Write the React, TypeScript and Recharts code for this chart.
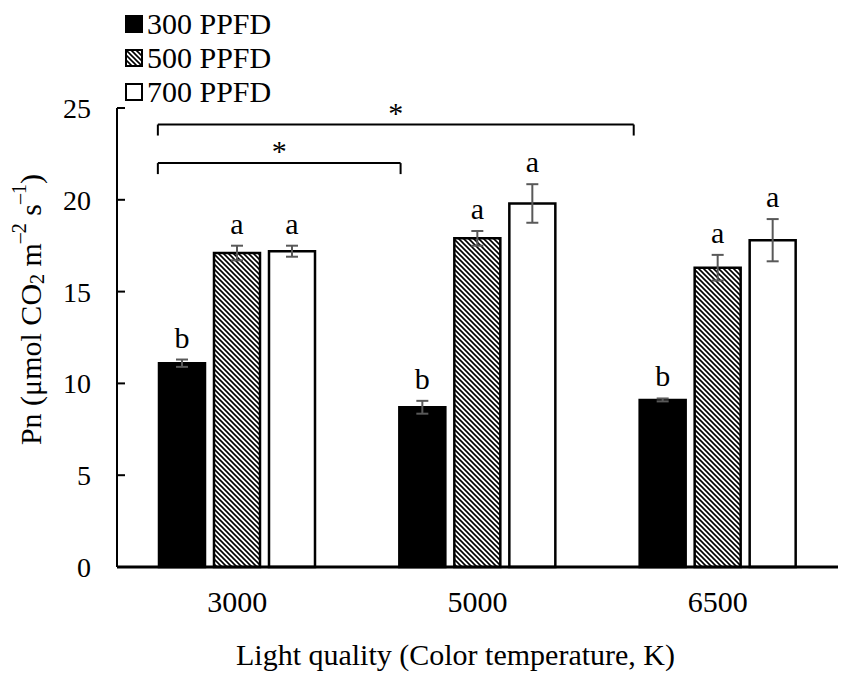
import React from 'react';
import { BarChart, Bar, XAxis, YAxis, ErrorBar, LabelList, Legend, ReferenceLine, Label } from 'recharts';

const FONT = '"Liberation Serif", "Times New Roman", serif';

const categories = ['3000', '5000', '6500'];
const positions = [0.5, 1.5, 2.5];
const pn300 = [11.1, 8.7, 9.1];
const pn500 = [17.1, 17.9, 16.3];
const pn700 = [17.2, 19.8, 17.8];
const se300 = [0.2, 0.35, 0.08];
const se500 = [0.4, 0.4, 0.7];
const se700 = [0.3, 1.05, 1.15];
const letters300 = ['b', 'b', 'b'];
const letters500 = ['a', 'a', 'a'];
const letters700 = ['a', 'a', 'a'];
const yTicks = [0, 5, 10, 15, 20, 25];

// significance brackets, x on a 0..3 scale (one unit per category)
const bracketFrom = [0.17, 0.17];
const bracketTo = [2.15, 1.18];
const bracketY = [24.1, 22.0];
const bracketTip = [23.5, 21.4];
const bracketMark = ['*', '*'];

const rows = categories.map((cat, i) => ({
  cat,
  pos: positions[i],
  v300: pn300[i], e300: se300[i], l300: letters300[i],
  v500: pn500[i], e500: se500[i], l500: letters500[i],
  v700: pn700[i], e700: se700[i], l700: letters700[i],
}));

const series = [
  { key: '300', name: '300 PPFD', fill: '#000', legendFill: '#000' },
  { key: '500', name: '500 PPFD', fill: 'url(#hatch)', legendFill: 'url(#hatchLegend)' },
  { key: '700', name: '700 PPFD', fill: '#fff', legendFill: '#fff' },
];

function letterLabel(key: string) {
  return (props: any) => {
    const { x, y, width, height, index, value } = props;
    const row: any = rows[index];
    const k = Number(height) / row['v' + key];
    const top = Number(y) - row['e' + key] * k;
    return (
      <text x={Number(x) + Number(width) / 2} y={top - 12} textAnchor="middle" fontSize={30} fontFamily={FONT} fill="#000">
        {value}
      </text>
    );
  };
}

const YTitle = (props: any) => {
  const vb = props.viewBox || { x: 0, y: 0, width: 0, height: 0 };
  const cx = vb.x + 22;
  const cy = vb.y + vb.height / 2 - 28;
  return (
    <text x={cx} y={cy} transform={`rotate(-90 ${cx} ${cy})`} textAnchor="middle" dominantBaseline="central" fontFamily={FONT} fontSize={30} fill="#000">
      <tspan>Pn (μmol CO</tspan>
      <tspan fontSize={20} dy={7}>2</tspan>
      <tspan dy={-7}> m</tspan>
      <tspan fontSize={20} dy={-11}>–2</tspan>
      <tspan dy={11}> s</tspan>
      <tspan fontSize={20} dy={-11}>–1</tspan>
      <tspan dy={11}>)</tspan>
    </text>
  );
};

const XTitle = (props: any) => {
  const vb = props.viewBox || { x: 0, y: 0, width: 0, height: 0 };
  return (
    <text x={vb.x + vb.width / 2 - 22} y={vb.y + 98} textAnchor="middle" fontFamily={FONT} fontSize={30} fill="#000">
      Light quality (Color temperature, K)
    </text>
  );
};

const LegendBox = () => (
  <div style={{ fontFamily: FONT, fontSize: 30, color: '#000' }}>
    {series.map((s) => (
      <div key={s.key} style={{ display: 'flex', alignItems: 'center', height: 34, whiteSpace: 'nowrap' }}>
        <svg width={18} height={18} style={{ marginRight: 4 }}>
          <defs>
            <pattern id="hatchLegend" patternUnits="userSpaceOnUse" width={5} height={5}>
              <rect width={5} height={5} fill="#fff" />
              <path d="M0,0 L5,5 M-1,4 L1,6 M4,-1 L6,1" stroke="#000" strokeWidth={1.6} />
            </pattern>
          </defs>
          <rect x={1} y={1} width={16} height={16} fill={s.legendFill} stroke="#000" strokeWidth={2} />
        </svg>
        <span style={{ lineHeight: '34px' }}>{s.name}</span>
      </div>
    ))}
  </div>
);

export default function App() {
  const xTick = { fill: '#000', fontSize: 30, fontFamily: FONT };
  const yTick = { fill: '#000', fontSize: 28, fontFamily: FONT };
  return (
    <div style={{ width: 842, height: 669, fontFamily: FONT }}>
      <BarChart width={842} height={669} data={rows} margin={{ top: 100, right: 12, bottom: 0, left: 0 }} barSize={46} barGap={9}>
        <defs>
          <pattern id="hatch" patternUnits="userSpaceOnUse" width={5} height={5}>
            <rect width={5} height={5} fill="#fff" />
            <path d="M0,0 L5,5 M-1,4 L1,6 M4,-1 L6,1" stroke="#000" strokeWidth={1.6} />
          </pattern>
        </defs>
        <XAxis dataKey="cat" height={110} tickLine={false} tickSize={0} tickMargin={24} axisLine={{ stroke: '#000', strokeWidth: 3 }} tick={xTick}>
          <Label content={XTitle} />
        </XAxis>
        <XAxis xAxisId="pos" dataKey="pos" type="number" domain={[0, 3]} hide />
        <YAxis domain={[0, 25]} ticks={yTicks} interval={0} width={109} tickSize={-8} tickMargin={34}
          axisLine={{ stroke: '#000', strokeWidth: 2 }} tickLine={{ stroke: '#000', strokeWidth: 2 }} tick={yTick}>
          <Label content={YTitle} />
        </YAxis>
        <Legend layout="vertical" align="center" verticalAlign="middle" wrapperStyle={{ top: -1, left: 117, width: 220, height: 104 }} content={LegendBox} />
        {series.map((s) => (
          <Bar key={s.key} dataKey={'v' + s.key} name={s.name} fill={s.fill} stroke="#000" strokeWidth={2.5} isAnimationActive={false}>
            <ErrorBar dataKey={'e' + s.key} width={6} strokeWidth={2} stroke="#595959" />
            <LabelList dataKey={'l' + s.key} content={letterLabel(s.key)} />
          </Bar>
        ))}
        {bracketFrom.map((from, i) => (
          <React.Fragment key={'br' + i}>
            <ReferenceLine xAxisId="pos" ifOverflow="visible" stroke="#000" strokeWidth={2}
              segment={[{ x: from, y: bracketY[i] }, { x: bracketTo[i], y: bracketY[i] }]}
              label={{ value: bracketMark[i], position: 'top', offset: 2, fontSize: 30, fill: '#000', fontFamily: FONT }} />
            <ReferenceLine xAxisId="pos" ifOverflow="visible" stroke="#000" strokeWidth={2}
              segment={[{ x: from, y: bracketTip[i] }, { x: from, y: bracketY[i] }]} />
            <ReferenceLine xAxisId="pos" ifOverflow="visible" stroke="#000" strokeWidth={2}
              segment={[{ x: bracketTo[i], y: bracketTip[i] }, { x: bracketTo[i], y: bracketY[i] }]} />
          </React.Fragment>
        ))}
      </BarChart>
    </div>
  );
}
